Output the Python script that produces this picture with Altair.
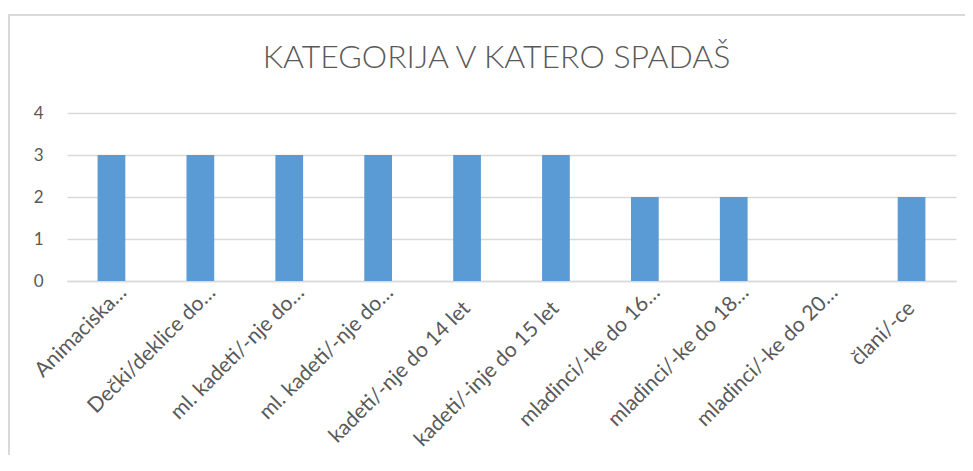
import json
import altair as alt
import pandas as pd

labels = ["Animaciska…", "Dečki/deklice do…", "ml. kadeti/-nje do…", "ml. kadeti/-nje do…",
          "kadeti/-nje do 14 let", "kadeti/-inje do 15 let", "mladinci/-ke do 16…",
          "mladinci/-ke do 18…", "mladinci/-ke do 20…", "člani/-ce"]
values = [3, 3, 3, 3, 3, 3, 2, 2, 0, 2]
y_ticks = [0, 1, 2, 3, 4]
title_text = "KATEGORIJA V KATERO SPADAŠ"

idx = list(range(len(labels)))
df = pd.DataFrame({"idx": idx, "label": labels, "value": values})

labels_js = json.dumps(labels, ensure_ascii=False)
label_expr = f"{labels_js}[datum.value]"
trunc_test = f"indexof({labels_js}[datum.value], '…') >= 0"

GRAY = "#D9D9D9"
TXT = "#595959"
FONT = "Lato"

bars = alt.Chart(df).mark_bar(color="#5B9BD5").encode(
    x=alt.X("idx:N", sort=idx, title=None,
            scale=alt.Scale(paddingInner=0.688, paddingOuter=0.344),
            axis=alt.Axis(labelExpr=label_expr, labelAngle=-45, labelAlign="right",
                          labelBaseline="middle", ticks=False, domain=True,
                          domainColor=GRAY, domainWidth=1.5,
                          labelFontSize=21, labelLimit=0,
                          labelPadding={"condition": {"test": trunc_test, "value": 8}, "value": 24},
                          labelOffset={"condition": {"test": trunc_test, "value": 12}, "value": 0})),
    y=alt.Y("value:Q", title=None,
            scale=alt.Scale(domain=[0, 4], nice=False),
            axis=alt.Axis(values=y_ticks, ticks=False, domain=False, grid=True,
                          gridColor=GRAY, gridWidth=1.5, labelPadding=24, format="d",
                          labelFontSize=17)),
)

border = alt.Chart(pd.DataFrame({"b": [0]})).mark_rect(
    fillOpacity=0, stroke=GRAY, strokeWidth=2
).encode(x=alt.value(-58), x2=alt.value(1000), y=alt.value(-98), y2=alt.value(500))

chart = alt.layer(border, bars).properties(
    width=889, height=168,
    autosize=alt.AutoSizeParams(type="none"),
    padding={"left": 59, "top": 105, "right": 9, "bottom": 174},
    background="white",
    title=alt.TitleParams(title_text, font=FONT, fontSize=32, fontWeight=300, color=TXT,
                          anchor="middle", frame="group", offset=-86, dx=-15,
                          baseline="alphabetic"),
).configure_view(stroke=None).configure_axis(
    labelFont=FONT, labelColor=TXT
)

chart.save("out.html", embed_options={"renderer": "svg", "actions": False})
